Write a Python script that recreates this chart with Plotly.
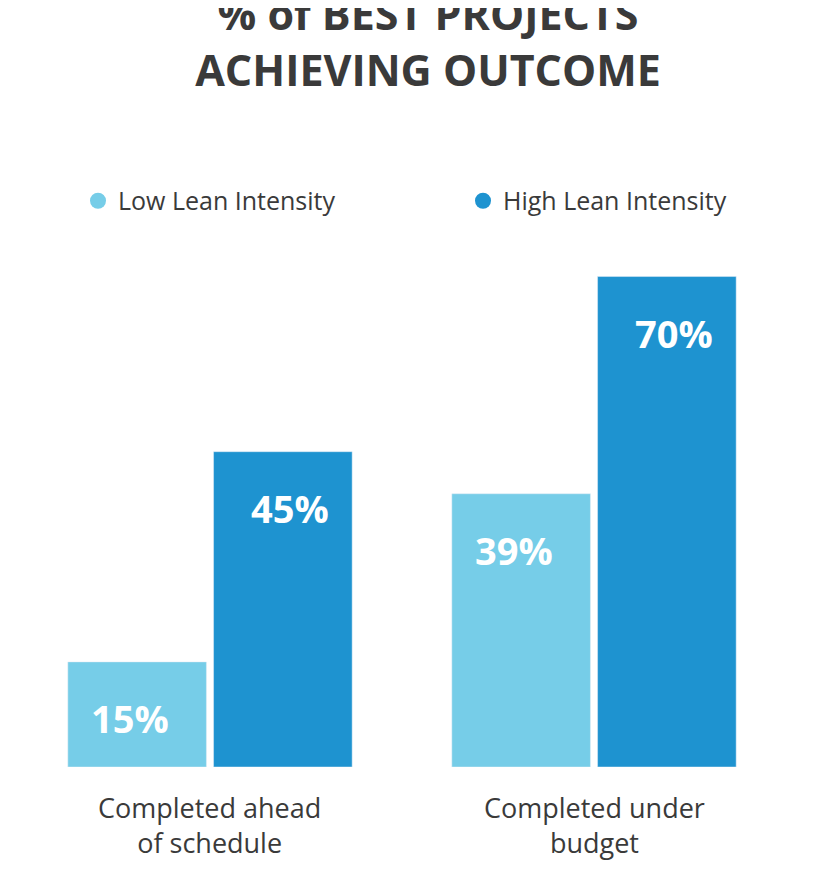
import plotly.graph_objects as go

categories = ["Completed ahead<br>of schedule", "Completed under<br>budget"]
series_names = ["Low Lean Intensity", "High Lean Intensity"]
low_values = [15, 39]
high_values = [45, 70]
colors = ["#76cde8", "#1e93d0"]
FONT = "Open Sans"

fig = go.Figure()
for name, vals, col in [(series_names[0], low_values, colors[0]), (series_names[1], high_values, colors[1])]:
    fig.add_trace(go.Bar(x=[0, 1], y=vals, marker_color=col, showlegend=False, hoverinfo="skip"))
for name, col in zip(series_names, colors):
    fig.add_trace(go.Scatter(x=[None], y=[None], mode="markers", name=name,
                             marker=dict(symbol="circle", size=26, color=col)))

ann = []
for vals, xs in [(low_values, -80), (high_values, 80)]:
    for i, v in enumerate(vals):
        ann.append(dict(x=i, y=v, xref="x", yref="y", text=f"<b>{v}%</b>", showarrow=False,
                        xshift=xs, yshift=-56, font=dict(family=FONT, size=38, color="white")))
for i, c in enumerate(categories):
    ann.append(dict(x=i, y=0, xref="x", yref="paper", text=c, showarrow=False, yanchor="top",
                    yshift=-20, font=dict(family=FONT, size=27, color="#3a3a3a")))

fig.update_layout(
    width=840, height=884, paper_bgcolor="white", plot_bgcolor="white",
    margin=dict(l=0, r=24.5, t=230, b=125),
    barmode="group", bargap=0.241, bargroupgap=0.049,
    xaxis=dict(range=[-0.526, 1.5], showticklabels=False, showgrid=False, zeroline=False, visible=False),
    yaxis=dict(range=[0, 75.5], visible=False),
    title=dict(text="<b>% of BEST PROJECTS<br>ACHIEVING OUTCOME</b>", x=0.5, xanchor="center", y=0.975, yanchor="top",
               font=dict(family=FONT, size=43, color="#3a3a3a")),
    legend=dict(orientation="h", x=0.09, xanchor="left", y=1.07, yanchor="middle", entrywidth=340, entrywidthmode="pixels",
                font=dict(family=FONT, size=25, color="#3a3a3a")),
    annotations=ann,
)
fig.write_html("out.html")
